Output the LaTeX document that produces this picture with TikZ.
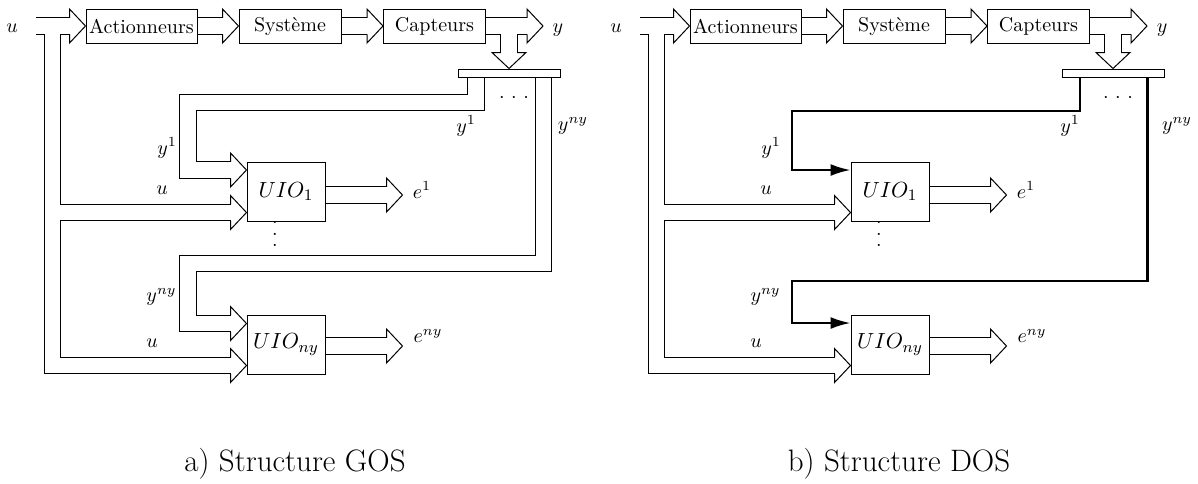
\documentclass[tikz,border=0pt]{standalone}
\usepackage{amsmath}
\usetikzlibrary{positioning,arrows.meta,calc}
\pgfdeclarelayer{dessous}
\pgfsetlayers{dessous,main}
\tikzset{
	bloc/.style={draw, line width=0.5pt, minimum width=51pt, minimum height=17pt, inner sep=0pt},
	uio/.style={draw, line width=0.5pt, minimum width=39pt, minimum height=29.5pt, inner sep=0pt, font=\fontsize{11}{13}\selectfont},
	canal/.style={double, double distance=7.75pt, line width=0.5pt},
	fil/.style={line width=1.1pt, -{Latex[length=10pt,width=6pt]}},
	legende/.style={font=\fontsize{15.5}{18}\selectfont},
	tete/.pic={\draw[line width=0.5pt] (-16,8.25) -- (-16,17) -- (0,0) -- (-16,-17) -- (-16,-8.25);},
}
\begin{document}
\begin{tikzpicture}[x=0.5pt, y=-0.5pt]
	\useasboundingbox (0,0) rectangle (1198,483);
	\foreach \p/\d/\s in {a/0pt/GOS, b/302pt/DOS}{
	\begin{scope}[xshift=\d]
		% chaine principale
		\node(u\p) at (12,28) {$u$};
		\node(act\p) [bloc, minimum width=55.5pt] at (141.5,26) {Actionneurs};
		\node(sys\p) [bloc, right=20.5pt of act\p] {Système};
		\node(cap\p) [bloc, right=20.75pt of sys\p] {Capteurs};
		\node(y\p) at (558,30) {$y$};
		\coordinate(py\p) at (543,26);
		\node(barre\p) [draw, line width=0.5pt, minimum width=51pt, minimum height=4pt, inner sep=0pt] at (509,73) {};
		\node(pts\p) at (514,98) {$\cdotp\,\cdotp\,\cdotp$};
		\node(ys1\p) at (466,126) {$y^1$};
		\node(ysn\p) at (573,126) {$y^{ny}$};
		
		% observateurs
		\node(uio1\p) [uio] at (286,191.5) {$UIO_1$};
		\node(uion\p) [uio, below=46.5pt of uio1\p] {$UIO_{ny}$};
		\node(vpts\p) [align=center, font=\fontsize{10}{5.75}\selectfont] at (275,234) {.\\.\\.};
		\node(ly1\p) at (167,148) {$y^1$};
		\node(lu1\p) at (162,190) {$u$};
		\node(lyn\p) at (161.5,297) {$y^{ny}$};
		\node(lun\p) at (152,343) {$u$};
		\node(e1\p) at (422,190) {$e^1$};
		\node(en\p) at (428,336) {$e^{ny}$};
		\node(titre\p) [legende] at (295,464) {\p) Structure \s};
		
		\begin{pgfonlayer}{dessous}
			\draw[canal] (36,26) -- ($(act\p.west)+(-16,0)$);
			\draw[canal] (52.5,33.75) |- ($(uion\p.west)+(-16,21)$);
			\draw[canal] (60.25,212.5) -- ($(uio1\p.west)+(-16,21)$);
			\draw[canal] (act\p) -- ($(sys\p.west)+(-16,0)$);
			\draw[canal] (sys\p) -- ($(cap\p.west)+(-16,0)$);
			\draw[canal] (cap\p) -- ($(py\p)+(-16,0)$);
			\draw[canal] (509,33.75) -- ($(barre\p.north)+(0,-16)$);
			\draw[canal] ($(uio1\p.east)+(0,3.5)$) -- +(61,0);
			\draw[canal] ($(uion\p.east)+(0,1.5)$) -- +(61,0);
			\if\p a
				\draw[canal] (476,77) |- (188,102.5) |- ($(uio1\p.west)+(-16,-21.5)$);
				\draw[canal] (543.5,77) |- (188,263.5) |- ($(uion\p.west)+(-16,-21)$);
			\fi
		\end{pgfonlayer}
		
		\pic at (act\p.west) {tete};
		\pic at (sys\p.west) {tete};
		\pic at (cap\p.west) {tete};
		\pic at (py\p) {tete};
		\pic[rotate=-90] at (barre\p.north) {tete};
		\pic at ($(uio1\p.west)+(0,21)$) {tete};
		\pic at ($(uion\p.west)+(0,21)$) {tete};
		\pic at ($(uio1\p.east)+(77,3.5)$) {tete};
		\pic at ($(uion\p.east)+(77,1.5)$) {tete};
		\if\p a
			\pic at ($(uio1\p.west)+(0,-21.5)$) {tete};
			\pic at ($(uion\p.west)+(0,-21)$) {tete};
		\else
			\draw[fil] (476,77) |- (188,111) |- ($(uio1\p.west)+(0,-21.5)$);
			\draw[fil] (543.5,77) |- (188,281) |- ($(uion\p.west)+(0,-21.5)$);
		\fi
	\end{scope}
	}
\end{tikzpicture}
\end{document}
